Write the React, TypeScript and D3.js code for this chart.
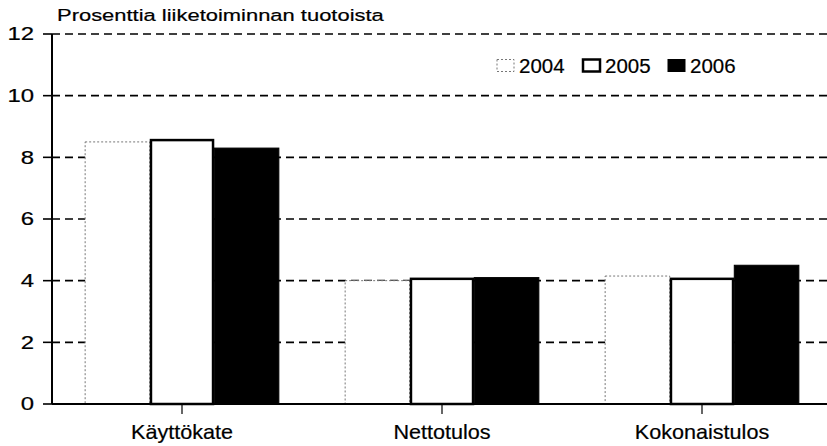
import React from "react";
import * as d3 from "d3";

const categories = ["Käyttökate", "Nettotulos", "Kokonaistulos"];
const years = ["2004", "2005", "2006"];
const values2004 = [8.5, 4.0, 4.15];
const values2005 = [8.6, 4.1, 4.1];
const values2006 = [8.3, 4.1, 4.5];
const yTicks = [0, 2, 4, 6, 8, 10, 12];
const title = "Prosenttia liiketoiminnan tuotoista";

const series = [values2004, values2005, values2006];

export default function App() {
  const W = 827, H = 446;
  const left = 52, right = 832, top = 34, bottom = 404;
  const x = d3.scaleBand<string>().domain(categories).range([left, right]).paddingInner(0.255).paddingOuter(0.1275);
  const xi = d3.scaleBand<string>().domain(years).range([0, x.bandwidth()]);
  const y = d3.scaleLinear().domain([0, 12]).range([bottom, top]);
  const font = "Arial, 'Liberation Sans', sans-serif";

  const styles = [
    { fill: "#fff", stroke: "#777", sw: 1, dash: "2,2" },
    { fill: "#fff", stroke: "#000", sw: 2.5, dash: null },
    { fill: "#000", stroke: "#000", sw: 1, dash: null },
  ];

  const legendX = [497, 583, 668];

  return (
    <svg width={W} height={H} style={{ position: "absolute", left: 0, top: 0, background: "#fff" }} fontFamily={font}>
      <rect x={0} y={0} width={W} height={H} fill="#fff" />
      <text transform={`translate(57,21) scale(1.33,1)`} fontSize={16.5} fill="#000" stroke="#000" strokeWidth={0.2}>{title}</text>
      {yTicks.filter(t => t > 0).map(t => (
        <line key={"g" + t} x1={left} x2={W} y1={y(t)} y2={y(t)} stroke="#000" strokeWidth={1.6} strokeDasharray="8,5" />
      ))}
      {yTicks.map(t => (
        <g key={"t" + t}>
          <line x1={43} x2={left} y1={y(t)} y2={y(t)} stroke="#000" strokeWidth={1.6} />
          <text transform={`translate(34,${y(t)}) scale(1.33,1)`} dy="0.36em" textAnchor="end" fontSize={18} fill="#000" stroke="#000" strokeWidth={0.2}>{t}</text>
        </g>
      ))}
      {categories.map((c, ci) => (
        <g key={c}>
          {years.map((yr, si) => {
            const v = series[si][ci];
            const s = styles[si];
            const bx = (x(c) as number) + (xi(yr) as number);
            const inset = si === 1 ? s.sw / 2 : 0;
            return (
              <rect key={yr} x={bx + inset} y={y(v) + inset} width={xi.bandwidth() - 2 * inset} height={bottom - y(v) - inset}
                fill={s.fill} stroke={s.stroke} strokeWidth={s.sw} strokeDasharray={s.dash || undefined} />
            );
          })}
          <line x1={(x(c) as number) + x.bandwidth() / 2} x2={(x(c) as number) + x.bandwidth() / 2} y1={bottom} y2={bottom + 10} stroke="#000" strokeWidth={1.2} />
          <text transform={`translate(${(x(c) as number) + x.bandwidth() / 2},439) scale(1.08,1)`} textAnchor="middle" fontSize={20} fill="#000" stroke="#000" strokeWidth={0.2}>{c}</text>
        </g>
      ))}
      <line x1={left} x2={left} y1={top} y2={bottom} stroke="#000" strokeWidth={2} />
      <line x1={left} x2={W} y1={bottom} y2={bottom} stroke="#000" strokeWidth={2} />
      {years.map((yr, i) => {
        const s = styles[i];
        return (
          <g key={"l" + yr}>
            <rect x={legendX[i]} y={59.5} width={17} height={12} fill={s.fill} stroke={s.stroke}
              strokeWidth={i === 1 ? 2.5 : 1} strokeDasharray={s.dash || undefined} />
            <text x={legendX[i] + 22} y={72.5} fontSize={20.5} fill="#000" stroke="#000" strokeWidth={0.2}>{yr}</text>
          </g>
        );
      })}
    </svg>
  );
}
